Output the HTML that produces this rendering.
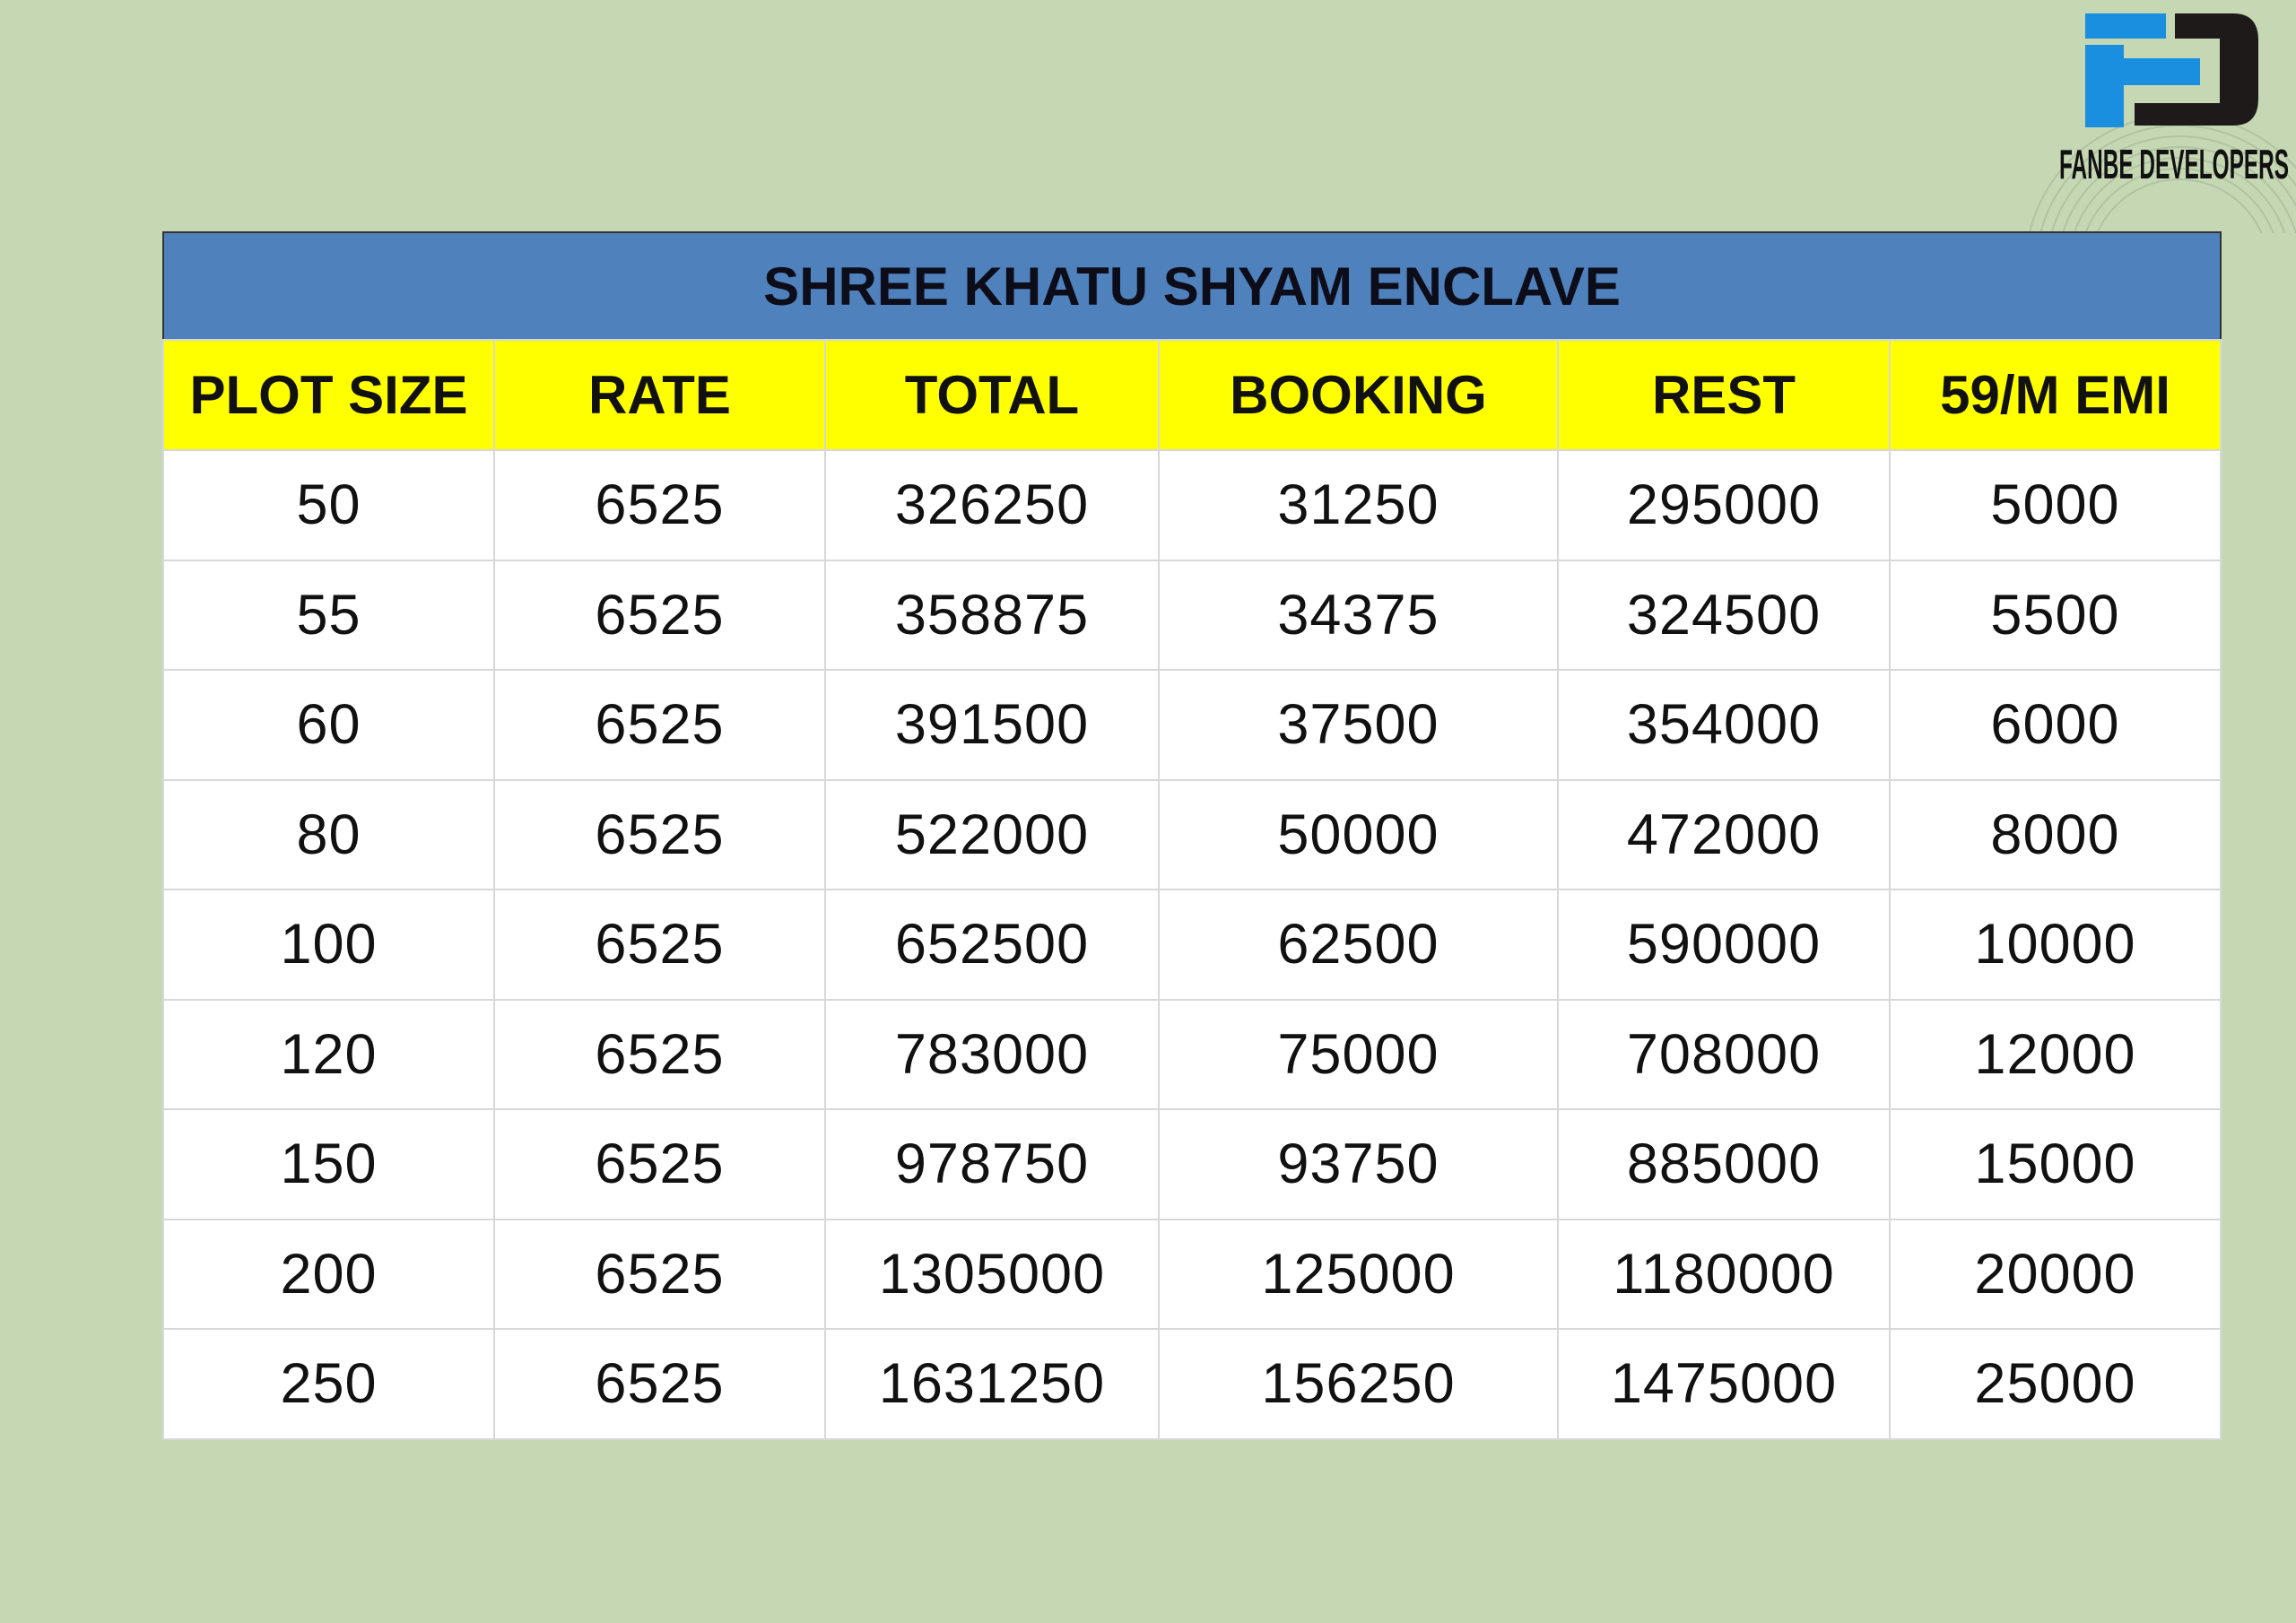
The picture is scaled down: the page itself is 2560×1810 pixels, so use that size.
<!DOCTYPE html>
<html><head><meta charset="utf-8"><style>
html,body{margin:0;padding:0}
body{width:2560px;height:1810px;background:#c5d7b3;position:relative;overflow:hidden;font-family:"Liberation Sans",sans-serif}
table{position:absolute;left:181px;top:258px;width:2294px;border-collapse:collapse;table-layout:fixed;border:2px solid #333}
td{border:2px solid #d8d8d8;text-align:center;padding:0;color:#111}
.t td{background:#4f81bd;height:118px;font-weight:bold;font-size:60px;color:#0d0d1a;border:none}
.h td{background:#ffff00;height:121px;font-weight:bold;font-size:60px}
.r td{background:#fff;height:120.5px;font-size:63px;letter-spacing:1px}
.logo{position:absolute;left:0;top:0}
.lw{position:absolute;left:2296px;top:160px;width:264px;height:50px;overflow:hidden}
.lt{font-family:"Liberation Sans Narrow","Liberation Sans",sans-serif;font-weight:bold;font-size:46px;line-height:46px;color:#111;transform:scaleX(0.53);transform-origin:left top;white-space:nowrap}
</style></head><body>
<svg class="logo" width="2560" height="260">
<g fill="none" stroke="#aabb9c" stroke-width="2" opacity="0.7">
<circle cx="2430" cy="300" r="100"/><circle cx="2430" cy="300" r="112"/><circle cx="2430" cy="300" r="124"/><circle cx="2430" cy="300" r="136"/><circle cx="2430" cy="300" r="148"/><circle cx="2430" cy="300" r="160"/><circle cx="2430" cy="300" r="172"/>
</g>
<rect x="2325" y="15" width="90" height="28" fill="#1a8fe0"/>
<rect x="2325" y="50" width="43" height="92" fill="#1a8fe0"/>
<rect x="2368" y="65" width="85" height="30" fill="#1a8fe0"/>
<path d="M2425 15 H2490 Q2518 15 2518 45 V110 Q2518 140 2490 140 H2380 V115 H2475 V43 H2425 Z" fill="#1e1a1a"/>
</svg>
<div class="lw"><div class="lt">FANBE DEVELOPERS</div></div>
<table>
<colgroup><col style="width:369px"><col style="width:369px"><col style="width:372px"><col style="width:445px"><col style="width:370px"><col style="width:369px"></colgroup>
<tr class="t"><td colspan="6">SHREE KHATU SHYAM ENCLAVE</td></tr>
<tr class="h"><td>PLOT SIZE</td><td>RATE</td><td>TOTAL</td><td>BOOKING</td><td>REST</td><td>59/M EMI</td></tr>
<tr class="r"><td>50</td><td>6525</td><td>326250</td><td>31250</td><td>295000</td><td>5000</td></tr>
<tr class="r"><td>55</td><td>6525</td><td>358875</td><td>34375</td><td>324500</td><td>5500</td></tr>
<tr class="r"><td>60</td><td>6525</td><td>391500</td><td>37500</td><td>354000</td><td>6000</td></tr>
<tr class="r"><td>80</td><td>6525</td><td>522000</td><td>50000</td><td>472000</td><td>8000</td></tr>
<tr class="r"><td>100</td><td>6525</td><td>652500</td><td>62500</td><td>590000</td><td>10000</td></tr>
<tr class="r"><td>120</td><td>6525</td><td>783000</td><td>75000</td><td>708000</td><td>12000</td></tr>
<tr class="r"><td>150</td><td>6525</td><td>978750</td><td>93750</td><td>885000</td><td>15000</td></tr>
<tr class="r"><td>200</td><td>6525</td><td>1305000</td><td>125000</td><td>1180000</td><td>20000</td></tr>
<tr class="r"><td>250</td><td>6525</td><td>1631250</td><td>156250</td><td>1475000</td><td>25000</td></tr>
</table>
</body></html>
